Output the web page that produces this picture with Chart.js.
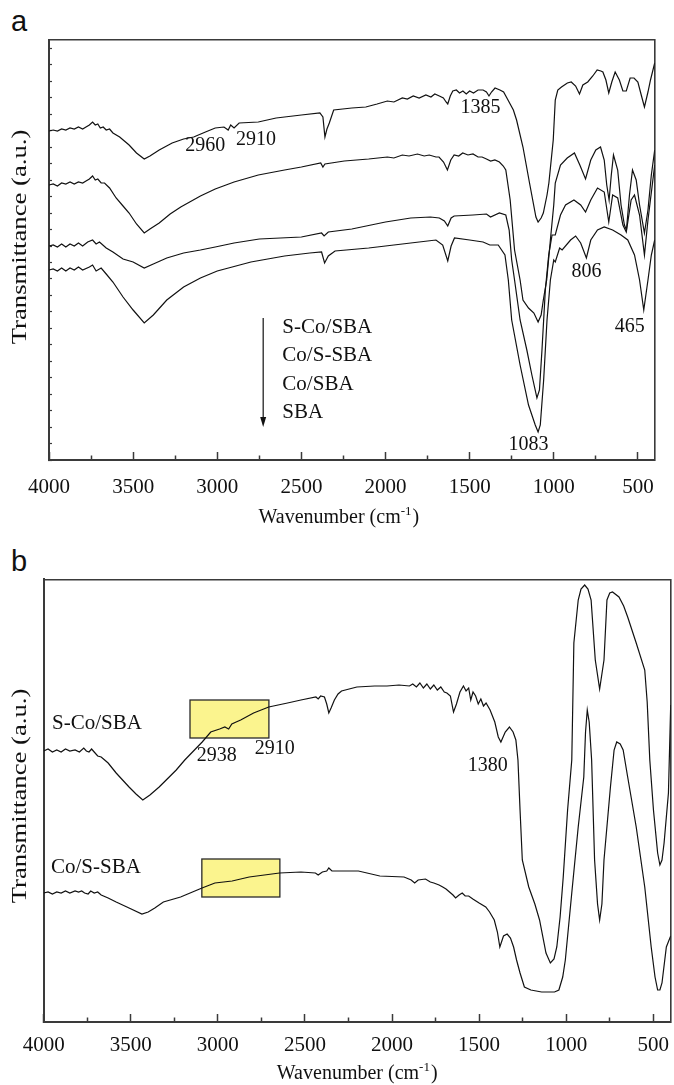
<!DOCTYPE html>
<html><head><meta charset="utf-8">
<script src="https://cdn.jsdelivr.net/npm/chart.js@4.4.1/dist/chart.umd.min.js"></script>
<style>
html,body{margin:0;padding:0;background:#fff;}
#wrap{position:relative;width:674px;height:1085px;overflow:hidden;background:#fff;}
canvas{position:absolute;left:0;}
.plabel{position:absolute;font-family:"Liberation Sans",Arial,sans-serif;font-size:29px;color:#111;line-height:1;}
</style></head><body>
<div id="wrap">
<div class="plabel" style="left:11px;top:7px;">a</div>
<div class="plabel" style="left:11px;top:547px;">b</div>
<canvas id="ca" width="674" height="540" style="top:0"></canvas>
<canvas id="cb" width="674" height="545" style="top:540px"></canvas>
</div>
<script>
// ---------- data (x = wavenumber / cm-1, y = transmittance, arbitrary units) ----------
const xTicksMajor = [4000, 3500, 3000, 2500, 2000, 1500, 1000, 500];
const xTicksMinor = [3750, 3250, 2750, 2250, 1750, 1250, 750];
const seriesNamesA = ['S-Co/SBA', 'Co/S-SBA', 'Co/SBA', 'SBA'];
const seriesNamesB = ['S-Co/SBA', 'Co/S-SBA'];

const a_SCoSBA = [[4000,329],[3975,330],[3950,329],[3925,331],[3900,330],[3875,332],[3850,331],[3825,333],[3800,331],[3780,333],[3760,335],[3741,338],[3725,335],[3710,336],[3695,332],[3678,333],[3660,330],[3640,331],[3620,327],[3580,323],[3524,315],[3480,307],[3434,301],[3400,304],[3345,310],[3268,317],[3200,321],[3140,323],[3070,328],[3012,332],[2960,333],[2935,330],[2920,335],[2900,332],[2870,337],[2756,338],[2650,342],[2500,345],[2390,347],[2372,343],[2360,323],[2348,331],[2334,337],[2308,350],[2200,352],[2117,353],[2050,356],[1989,359],[1950,358],[1900,362],[1870,361],[1835,364],[1800,362],[1760,365],[1730,363],[1707,366],[1680,364],[1656,362],[1640,358],[1630,356],[1615,364],[1600,369],[1579,370],[1560,367],[1540,369],[1520,366],[1500,369],[1477,367],[1450,370],[1420,370],[1400,368],[1385,364],[1370,368],[1349,372],[1320,370],[1298,368],[1272,360],[1240,350],[1221,340],[1183,313],[1144,277],[1106,243],[1093,238],[1075,242],[1062,247],[1040,265],[1029,277],[1003,320],[991,360],[976,370],[954,373],[919,377],[896,378],[870,374],[847,366],[827,375],[798,378],[768,384],[742,390],[720,389],[708,388],[690,380],[673,367],[655,378],[635,388],[610,380],[589,369],[569,369],[546,382],[523,382],[500,378],[480,365],[461,353],[440,368],[425,380],[400,397]];
const a_CoSSBA = [[4000,275],[3975,276],[3950,274],[3925,277],[3900,276],[3875,278],[3850,276],[3825,278],[3800,277],[3780,279],[3760,281],[3741,284],[3725,280],[3710,281],[3690,277],[3670,277],[3640,272],[3601,262],[3560,254],[3524,247],[3480,236],[3434,227],[3400,231],[3345,237],[3280,246],[3217,253],[3100,264],[3012,271],[2900,278],[2756,285],[2600,290],[2500,293],[2385,297],[2372,293],[2360,296],[2245,299],[2100,301],[1989,303],[1950,302],[1900,305],[1860,304],[1810,306],[1770,304],[1740,305],[1700,303],[1682,303],[1655,298],[1632,290],[1612,300],[1592,305],[1565,304],[1541,307],[1510,305],[1480,306],[1450,303],[1426,303],[1400,301],[1375,299],[1350,300],[1323,298],[1300,294],[1285,290],[1259,260],[1233,210],[1200,180],[1183,160],[1150,152],[1118,147],[1093,138],[1075,145],[1062,160],[1042,180],[1020,220],[1000,255],[991,277],[960,295],[920,302],[877,307],[845,295],[811,281],[780,300],[750,310],[722,313],[700,300],[685,275],[671,260],[658,285],[645,305],[620,290],[600,255],[580,235],[568,230],[550,265],[532,290],[510,280],[490,255],[461,227],[440,250],[420,285],[400,310]];
const a_CoSBA = [[4000,214],[3975,215],[3950,213],[3925,216],[3900,213],[3875,216],[3850,214],[3825,217],[3800,214],[3770,218],[3741,220],[3720,216],[3700,218],[3660,212],[3620,208],[3560,201],[3500,198],[3434,192],[3380,196],[3300,202],[3200,207],[3100,210],[3012,213],[2900,217],[2750,221],[2500,223],[2380,227],[2365,224],[2340,228],[2200,231],[2000,238],[1850,242],[1733,243],[1680,242],[1650,239],[1630,234],[1610,242],[1592,244],[1480,245],[1400,246],[1376,243],[1323,247],[1285,245],[1265,230],[1250,200],[1233,180],[1200,140],[1160,110],[1130,85],[1100,62],[1085,70],[1070,110],[1050,170],[1030,205],[1010,225],[991,225],[960,245],[930,255],[880,260],[840,255],[811,248],[780,260],[740,272],[700,268],[673,238],[650,265],[620,262],[589,235],[569,228],[540,260],[520,265],[490,245],[461,205],[440,240],[400,295]];
const a_SBA = [[4000,190],[3975,191],[3950,189],[3925,192],[3900,189],[3875,192],[3850,190],[3825,193],[3800,190],[3760,193],[3741,195],[3720,189],[3690,192],[3660,186],[3620,178],[3560,163],[3500,150],[3434,137],[3380,145],[3300,160],[3200,173],[3100,182],[3000,189],[2800,198],[2600,204],[2450,207],[2380,208],[2362,197],[2340,204],[2300,209],[2100,212],[2000,214],[1800,218],[1700,220],[1660,215],[1630,199],[1610,214],[1590,222],[1500,220],[1420,218],[1380,215],[1330,215],[1290,205],[1270,180],[1250,140],[1200,95],[1150,55],[1110,35],[1093,28],[1080,35],[1060,80],[1040,140],[1020,180],[1000,200],[991,198],[965,212],[950,210],[900,220],[870,224],[840,217],[806,202],[780,220],[740,230],[700,233],[650,230],[600,225],[560,220],[520,205],[490,180],[465,150],[440,180],[420,205],[400,220]];

const b_SCoSBA = [[4000,271],[3975,273],[3950,270],[3925,272],[3900,270],[3875,273],[3850,271],[3820,272],[3795,270],[3770,274],[3755,271],[3740,270],[3725,273],[3710,270],[3690,266],[3670,265],[3650,262],[3630,259],[3584,249],[3510,235],[3470,228],[3431,222],[3390,227],[3337,235],[3239,252],[3190,262],[3140,271],[3090,280],[3041,290],[2990,293],[2960,295],[2938,293],[2920,298],[2895,300],[2869,302],[2795,309],[2708,315],[2600,319],[2523,322],[2437,325],[2424,323],[2410,326],[2388,325],[2375,318],[2363,309],[2350,314],[2331,322],[2310,328],[2290,331],[2202,335],[2100,336],[2029,336],[1960,337],[1900,336],[1881,338],[1860,335],[1840,339],[1820,334],[1800,338],[1780,333],[1760,337],[1740,332],[1720,335],[1700,330],[1685,329],[1665,326],[1647,310],[1630,318],[1610,330],[1590,336],[1575,331],[1560,334],[1548,322],[1535,330],[1520,326],[1505,318],[1490,323],[1475,316],[1460,319],[1437,312],[1410,300],[1390,285],[1375,280],[1350,290],[1326,295],[1305,290],[1289,282],[1277,262],[1265,212],[1252,162],[1215,135],[1180,118],[1153,102],[1116,69],[1091,59],[1070,63],[1054,75],[1035,105],[1017,145],[992,212],[968,262],[956,379],[931,422],[915,433],[894,437],[875,433],[857,422],[833,362],[808,333],[783,362],[766,422],[750,429],[734,430],[697,425],[670,416],[647,405],[598,379],[549,352],[535,320],[520,262],[499,212],[475,169],[462,157],[450,162],[438,179],[413,229],[400,317]];
const b_CoSSBA = [[4000,129],[3975,130],[3950,128],[3925,130],[3900,129],[3875,131],[3850,129],[3820,131],[3800,130],[3782,131],[3765,129],[3745,128],[3730,131],[3710,129],[3690,130],[3670,127],[3630,124],[3584,120],[3510,114],[3436,108],[3400,110],[3362,114],[3313,120],[3214,125],[3091,134],[3017,139],[2918,141],[2820,145],[2646,149],[2523,150],[2440,149],[2424,147],[2400,150],[2375,151],[2363,154],[2345,151],[2193,151],[2070,146],[1931,145],[1890,142],[1870,139],[1850,142],[1808,143],[1780,140],[1760,139],[1730,137],[1709,135],[1690,133],[1670,130],[1650,127],[1635,124],[1615,127],[1597,129],[1580,126],[1560,126],[1536,123],[1500,119],[1462,115],[1440,110],[1413,102],[1395,90],[1381,75],[1360,86],[1339,88],[1320,84],[1302,75],[1285,62],[1265,49],[1240,35],[1203,32],[1141,30],[1067,30],[1042,32],[1020,45],[1005,62],[968,129],[931,195],[899,245],[889,290],[879,312],[868,300],[854,262],[837,162],[820,118],[808,102],[795,118],[783,162],[746,235],[725,272],[710,280],[690,278],[673,272],[647,245],[598,195],[549,135],[512,75],[490,45],[475,32],[462,32],[450,39],[425,75],[400,86]];

// annotation texts: [label, wavenumber, transmittance]
const peakLabelsA = [['2960',3072,314],['2910',2769,320],['1385',1436,352],['806',805,188],['465',549,133],['1083',1150,15]];
const legendPosA = [2613, [133, 105, 76, 48]];
const arrowA = [2727, 142, 33];
const peakLabelsB = [['2938',3006,266],['2910',2673,273],['1380',1451,256]];
const nameLabelsB = [['S-Co/SBA',3952,298.5],['Co/S-SBA',3958,155]];
const boxesB = [[3160,2707,322,284],[3092,2644,163,125]];

// ---------- styling ----------
const SERIF = '"Liberation Serif", "Times New Roman", serif';
const AX = '#3a3a3a';
const LINE = '#111';

function pts(arr){ return arr.map(p => ({x: p[0], y: p[1]})); }

const annotPlugin = {
  id: 'annot',
  beforeDatasetsDraw(chart, args, o) {
    const ctx = chart.ctx, xs = chart.scales.x, ys = chart.scales.y;
    (o.boxes || []).forEach(b => {
      const xa = xs.getPixelForValue(b[0]), xb = xs.getPixelForValue(b[1]);
      const ya = ys.getPixelForValue(b[2]), yb = ys.getPixelForValue(b[3]);
      const L = Math.min(xa, xb), T = Math.min(ya, yb), W = Math.abs(xb - xa), H = Math.abs(yb - ya);
      ctx.save();
      ctx.fillStyle = '#fbf48e';
      ctx.fillRect(L, T, W, H);
      ctx.strokeStyle = '#2a2a2a'; ctx.lineWidth = 1.3;
      ctx.strokeRect(L, T, W, H);
      ctx.restore();
    });
  },
  afterDraw(chart, args, o) {
    const ctx = chart.ctx, xs = chart.scales.x, ys = chart.scales.y, ca = chart.chartArea;
    ctx.save();
    ctx.fillStyle = '#111';
    ctx.textBaseline = 'middle';
    (o.texts || []).forEach(t => {
      ctx.font = (t.size || 20) + 'px ' + SERIF;
      ctx.textAlign = t.align || 'center';
      ctx.fillText(t.text, xs.getPixelForValue(t.x), ys.getPixelForValue(t.y));
    });
    if (o.arrow) {
      const ax = xs.getPixelForValue(o.arrow[0]);
      const y1 = ys.getPixelForValue(o.arrow[1]), y2 = ys.getPixelForValue(o.arrow[2]);
      ctx.strokeStyle = '#111'; ctx.lineWidth = 1.2;
      ctx.beginPath(); ctx.moveTo(ax, y1); ctx.lineTo(ax, y2 - 8); ctx.stroke();
      ctx.beginPath(); ctx.moveTo(ax - 3, y2 - 10); ctx.lineTo(ax + 3, y2 - 10); ctx.lineTo(ax, y2); ctx.closePath(); ctx.fill();
    }
    // x-axis title with superscript
    {
      const cx = (ca.left + ca.right) / 2 + (o.xTitleDx || 0);
      const by = ca.bottom + o.xTitleDy;
      const main = 'Wavenumber (cm', sup = '-1', end = ')';
      ctx.textBaseline = 'alphabetic';
      ctx.font = '20px ' + SERIF; const w1 = ctx.measureText(main).width, w3 = ctx.measureText(end).width;
      ctx.font = '13px ' + SERIF; const w2 = ctx.measureText(sup).width;
      let x = cx - (w1 + w2 + w3 + 1) / 2;
      ctx.textAlign = 'left';
      ctx.font = '20px ' + SERIF; ctx.fillText(main, x, by); x += w1;
      ctx.font = '13px ' + SERIF; ctx.fillText(sup, x, by - 8); x += w2 + 1;
      ctx.font = '20px ' + SERIF; ctx.fillText(end, x, by);
    }
    // y-axis title (stretched along its length like the original)
    {
      ctx.translate(ca.left + o.yTitleDx, o.yTitleCy);
      ctx.rotate(-Math.PI / 2);
      ctx.scale(1.27, 1);
      ctx.textAlign = 'center'; ctx.textBaseline = 'middle';
      ctx.font = '21px ' + SERIF;
      ctx.fillText('Transmittance (a.u.)', 0, 0);
    }
    ctx.restore();
  }
};

function scalesFor(cfg) {
  const frame = {display: true, color: AX, width: 2};
  return {
    x: {type: 'linear', position: 'bottom', reverse: true, min: 400, max: 4000, weight: 0,
        afterBuildTicks: s => { s.ticks = xTicksMajor.map(v => ({value: v})); },
        afterFit: s => { s.height = cfg.xh; s.paddingLeft = 0; s.paddingRight = 0; },
        border: frame,
        grid: {drawOnChartArea: false, drawTicks: true, tickLength: -8, tickColor: AX, tickWidth: 1.5},
        ticks: {autoSkip: false, maxRotation: 0, minRotation: 0, padding: cfg.tpad,
                color: '#111', font: {family: SERIF, size: 21},
                callback: v => String(v)}},
    x2: {type: 'linear', position: 'bottom', reverse: true, min: 400, max: 4000, weight: -1,
        afterBuildTicks: s => { s.ticks = xTicksMinor.map(v => ({value: v})); },
        afterFit: s => { s.height = 0; s.paddingLeft = 0; s.paddingRight = 0; },
        border: {display: false},
        grid: {drawOnChartArea: false, drawTicks: true, tickLength: -4.5, tickColor: AX, tickWidth: 1.5},
        ticks: {autoSkip: false, maxRotation: 0, minRotation: 0, callback: () => ''}},
    xt: {type: 'linear', position: 'top', reverse: true, min: 400, max: 4000,
        afterFit: s => { s.height = 0; s.paddingLeft = 0; s.paddingRight = 0; },
        border: {display: true, color: AX, width: 1.6},
        grid: {drawOnChartArea: false, drawTicks: false},
        ticks: {display: false}},
    y: {type: 'linear', position: 'left', min: 0, max: cfg.ymax,
        afterFit: s => { s.width = cfg.yw; s.paddingTop = 0; s.paddingBottom = 0; },
        border: frame,
        grid: {drawOnChartArea: false, drawTicks: cfg.yticks, tickLength: -3, tickColor: AX, tickWidth: 1.2},
        ticks: {stepSize: cfg.ystep, includeBounds: false, autoSkip: false, display: cfg.yticks, callback: () => ''}},
    yr: {type: 'linear', position: 'right', min: 0, max: cfg.ymax,
        afterFit: s => { s.width = 0; s.paddingTop = 0; s.paddingBottom = 0; },
        border: {display: true, color: AX, width: 1.6},
        grid: {drawOnChartArea: false, drawTicks: false},
        ticks: {display: false}}
  };
}

function ds(arr, label) {
  return {label, data: pts(arr), borderColor: LINE, borderWidth: 1.2, pointRadius: 0,
          tension: 0, fill: false, xAxisID: 'x', yAxisID: 'y'};
}

// Panel a
const textsA = peakLabelsA.map(p => ({text: p[0], x: p[1], y: p[2], size: 20}))
  .concat(seriesNamesA.map((n, i) => ({text: n, x: legendPosA[0], y: legendPosA[1][i], align: 'left', size: 21})));
new Chart(document.getElementById('ca'), {
  type: 'line',
  data: {datasets: [ds(a_SCoSBA, seriesNamesA[0]), ds(a_CoSSBA, seriesNamesA[1]), ds(a_CoSBA, seriesNamesA[2]), ds(a_SBA, seriesNamesA[3])]},
  options: {
    responsive: false, animation: false, devicePixelRatio: 1,
    layout: {padding: {left: 0, top: 39.7, right: 19.3, bottom: 0}},
    scales: scalesFor({xh: 80, tpad: 22.4, ymax: 420.3, yw: 49, ystep: 16.46, yticks: true}),
    plugins: {legend: {display: false}, tooltip: {enabled: false},
      annot: {texts: textsA, arrow: arrowA, xTitleDy: 63, xTitleDx: -13, yTitleDx: -29, yTitleCy: 237}}
  },
  plugins: [annotPlugin]
});

// Panel b
const textsB = peakLabelsB.map(p => ({text: p[0], x: p[1], y: p[2], size: 20}))
  .concat(nameLabelsB.map(p => ({text: p[0], x: p[1], y: p[2], align: 'left', size: 21})));
new Chart(document.getElementById('cb'), {
  type: 'line',
  data: {datasets: [ds(b_SCoSBA, seriesNamesB[0]), ds(b_CoSSBA, seriesNamesB[1])]},
  options: {
    responsive: false, animation: false, devicePixelRatio: 1,
    layout: {padding: {left: 0, top: 39.3, right: 3.3, bottom: 0}},
    scales: scalesFor({xh: 63, tpad: 18.4, ymax: 442.7, yw: 43.7, ystep: 50, yticks: false}),
    plugins: {legend: {display: false}, tooltip: {enabled: false},
      annot: {texts: textsB, boxes: boxesB, xTitleDy: 57, yTitleDx: -23.7, yTitleCy: 256}}
  },
  plugins: [annotPlugin]
});
</script>
</body></html>
